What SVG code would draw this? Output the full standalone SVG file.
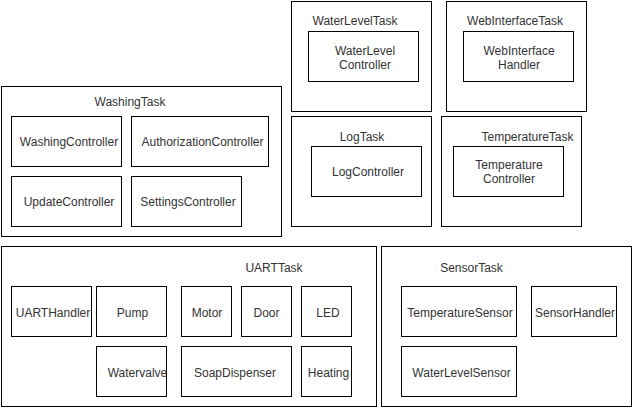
<svg xmlns="http://www.w3.org/2000/svg" width="633" height="408" viewBox="0 0 633 408">
<style>
rect{fill:#fff;stroke:#000;stroke-width:1}
text{font-family:"Liberation Sans",Arial,sans-serif;font-size:12px;fill:#333;text-anchor:middle}
</style>
<rect x="0" y="0" width="633" height="408" style="stroke:none"/>
<g id="WashingTask">
<rect x="1.5" y="86.5" width="280" height="150"/>
<text x="130" y="106">WashingTask</text>
<g id="WashingController"><rect x="11.5" y="116.5" width="110" height="50"/><text x="69" y="146">WashingController</text></g>
<g id="AuthorizationController"><rect x="131.5" y="116.5" width="137" height="50"/><text x="202.5" y="146">AuthorizationController</text></g>
<g id="UpdateController"><rect x="11.5" y="176.5" width="110" height="50"/><text x="69" y="206">UpdateController</text></g>
<g id="SettingsController"><rect x="131.5" y="176.5" width="110" height="50"/><text x="188" y="206">SettingsController</text></g>
</g>
<g id="WaterLevelTask">
<rect x="291.5" y="1.5" width="140" height="110"/>
<text x="355" y="25">WaterLevelTask</text>
<g id="WaterLevelController"><rect x="308.5" y="31.5" width="110" height="50"/><text x="365" y="55">WaterLevel</text><text x="365" y="69">Controller</text></g>
</g>
<g id="WebInterfaceTask">
<rect x="446.5" y="1.5" width="140" height="110"/>
<text x="515" y="25">WebInterfaceTask</text>
<g id="WebInterfaceHandler"><rect x="463.5" y="31.5" width="110" height="50"/><text x="519" y="55">WebInterface</text><text x="519" y="69">Handler</text></g>
</g>
<g id="LogTask">
<rect x="291.5" y="116.5" width="140" height="110"/>
<text x="362" y="141">LogTask</text>
<g id="LogController"><rect x="311.5" y="146.5" width="110" height="50"/><text x="368" y="176">LogController</text></g>
</g>
<g id="TemperatureTask">
<rect x="441.5" y="116.5" width="140" height="110"/>
<text x="527.5" y="141">TemperatureTask</text>
<g id="TemperatureController"><rect x="453.5" y="146.5" width="110" height="50"/><text x="509" y="169">Temperature</text><text x="509" y="183">Controller</text></g>
</g>
<g id="UARTTask">
<rect x="1.5" y="246.5" width="375" height="160"/>
<text x="274" y="272">UARTTask</text>
<g id="UARTHandler"><rect x="11.5" y="286.5" width="80" height="50"/><text x="53" y="317">UARTHandler</text></g>
<g id="Pump"><rect x="96.5" y="286.5" width="70" height="50"/><text x="132.5" y="317">Pump</text></g>
<g id="Motor"><rect x="181.5" y="286.5" width="50" height="50"/><text x="207" y="317">Motor</text></g>
<g id="Door"><rect x="241.5" y="286.5" width="50" height="50"/><text x="266.5" y="317">Door</text></g>
<g id="LED"><rect x="301.5" y="286.5" width="50" height="50"/><text x="328" y="317">LED</text></g>
<g id="Watervalve"><rect x="96.5" y="346.5" width="70" height="50"/><text x="137.5" y="377">Watervalve</text></g>
<g id="SoapDispenser"><rect x="181.5" y="346.5" width="110" height="50"/><text x="235" y="377">SoapDispenser</text></g>
<g id="Heating"><rect x="301.5" y="346.5" width="50" height="50"/><text x="328.5" y="377">Heating</text></g>
</g>
<g id="SensorTask">
<rect x="381.5" y="246.5" width="250" height="160"/>
<text x="471.5" y="272">SensorTask</text>
<g id="TemperatureSensor"><rect x="401.5" y="286.5" width="115" height="50"/><text x="460" y="317">TemperatureSensor</text></g>
<g id="SensorHandler"><rect x="531.5" y="286.5" width="85" height="50"/><text x="575" y="317">SensorHandler</text></g>
<g id="WaterLevelSensor"><rect x="401.5" y="346.5" width="115" height="50"/><text x="461.5" y="377">WaterLevelSensor</text></g>
</g>
<g id="connectors"/>
</svg>
